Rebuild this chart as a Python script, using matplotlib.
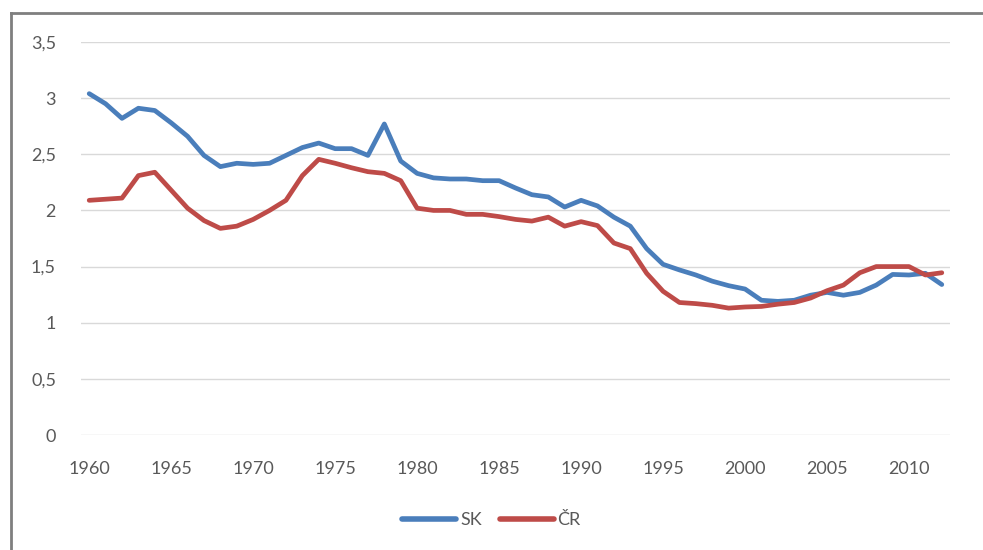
import matplotlib.pyplot as plt
import matplotlib.ticker as mticker
from matplotlib.lines import Line2D

plt.rcParams['font.family'] = ['Lato', 'DejaVu Sans']

years = list(range(1960, 2013))

sk = [3.04, 2.95, 2.82, 2.91, 2.89, 2.78, 2.66, 2.49, 2.39, 2.42,
      2.41, 2.42, 2.49, 2.56, 2.60, 2.55, 2.55, 2.49, 2.77, 2.44,
      2.33, 2.29, 2.28, 2.28, 2.265, 2.265, 2.20, 2.14, 2.12, 2.03,
      2.09, 2.04, 1.94, 1.86, 1.66, 1.52, 1.47, 1.425, 1.37, 1.33,
      1.30, 1.20, 1.19, 1.20, 1.245, 1.27, 1.245, 1.27, 1.335, 1.43,
      1.425, 1.44, 1.34]

cr = [2.09, 2.10, 2.11, 2.31, 2.34, 2.18, 2.02, 1.91, 1.84, 1.86,
      1.92, 2.00, 2.09, 2.31, 2.455, 2.42, 2.38, 2.345, 2.33, 2.265,
      2.02, 2.00, 2.00, 1.965, 1.965, 1.945, 1.92, 1.905, 1.94, 1.86,
      1.90, 1.865, 1.71, 1.66, 1.44, 1.28, 1.18, 1.17, 1.155, 1.13,
      1.14, 1.145, 1.165, 1.18, 1.22, 1.285, 1.335, 1.445, 1.50, 1.50,
      1.50, 1.425, 1.445]

blue = '#4A7EBB'
red = '#BE4B48'
txt = '#595959'

fig = plt.figure(figsize=(9.83, 5.5), dpi=100)
ax = fig.add_axes([81 / 983, 1 - 435 / 550, (950 - 81) / 983, (435 - 42) / 550])

ax.plot(years, sk, color=blue, lw=3.4, solid_capstyle='round', label='SK')
ax.plot(years, cr, color=red, lw=3.4, solid_capstyle='round', label='ČR')

ax.set_xlim(1959.5, 2012.5)
ax.set_ylim(0, 3.5)
ax.set_xticks(range(1960, 2013, 5))
ax.set_yticks([0, 0.5, 1, 1.5, 2, 2.5, 3, 3.5])
ax.yaxis.set_major_formatter(mticker.FuncFormatter(lambda v, p: f'{v:g}'.replace('.', ',')))
ax.grid(axis='y', color='#D9D9D9', lw=1)
ax.set_axisbelow(True)
for s in ax.spines.values():
    s.set_visible(False)
ax.tick_params(axis='both', length=0, labelsize=13, colors=txt)
ax.tick_params(axis='y', pad=18)
ax.tick_params(axis='x', pad=19)

handles = [Line2D([], [], color=blue, lw=4, solid_capstyle='round'),
           Line2D([], [], color=red, lw=4, solid_capstyle='round')]
fig.legend(handles, ['SK', 'ČR'], loc='center', bbox_to_anchor=(0.5, 1 - 520 / 550),
           ncol=2, frameon=False, fontsize=13, labelcolor=txt,
           handlelength=3.0, handletextpad=0.2, columnspacing=1.0)

# outer frame (top and left edge visible in the screenshot)
fig.add_artist(Line2D([11 / 983, 1], [1 - 13 / 550, 1 - 13 / 550], color='#7F7F7F', lw=2,
                      transform=fig.transFigure))
fig.add_artist(Line2D([11 / 983, 11 / 983], [0, 1 - 13 / 550], color='#7F7F7F', lw=2,
                      transform=fig.transFigure))

fig.savefig('out.png', dpi=100)
